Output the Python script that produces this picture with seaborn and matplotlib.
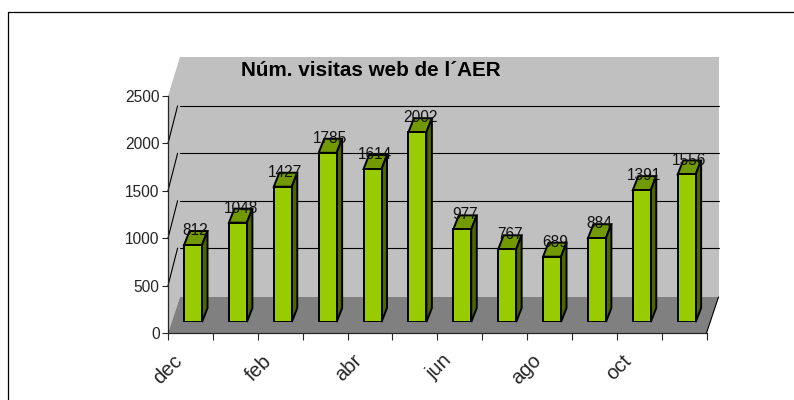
import matplotlib
matplotlib.use("Agg")
import matplotlib.pyplot as plt
import matplotlib.transforms as mtrans
import pandas as pd
import seaborn as sns
from matplotlib.patches import Polygon

months = ['dec', 'ene', 'feb', 'mar', 'abr', 'may', 'jun', 'jul', 'ago', 'sep', 'oct', 'nov']
visits = [812, 1048, 1427, 1785, 1614, 2002, 977, 767, 689, 884, 1391, 1556]
y_ticks = [0, 500, 1000, 1500, 2000, 2500]

df = pd.DataFrame({'month': months, 'visits': visits})

sns.set_style("white")
plt.rcParams['font.family'] = ['Liberation Sans', 'DejaVu Sans']

W, H = 794, 400
fig = plt.figure(figsize=(W / 100, H / 100), dpi=100)

# chart frame, only top and left show
fig.add_artist(plt.Line2D([8 / W, 8 / W, 1], [0, 1 - 12 / H, 1 - 12 / H], color='black', linewidth=0.9))

# front plane of the fake 3d box, in px
x0, x1, y0, y1 = 168, 706.5, 333, 96
ax = fig.add_axes([x0 / W, 1 - y0 / H, (x1 - x0) / W, (y0 - y1) / H])
ax.set_xlim(-0.5, 11.5)
ax.set_ylim(0, 2500)
px_x = (x1 - x0) / 12
px_y = (y0 - y1) / 2500

# depth of the box
dx = 12 / px_x
dy = 36 / px_y
top_extra = 3 / px_y
grid_shift = 1.5 / px_y
left, right = -0.5, 11.5
wall = '#C0C0C0'
wall_top = 2500 + dy + top_extra
ax.add_patch(Polygon([(left + dx, dy), (right + dx, dy), (right + dx, wall_top), (left + dx, wall_top)],
                     facecolor=wall, edgecolor='none', clip_on=False, zorder=1))
ax.add_patch(Polygon([(left, 0), (left + dx, dy), (left + dx, wall_top), (left, 2500)],
                     facecolor=wall, edgecolor='none', clip_on=False, zorder=1))
ax.add_patch(Polygon([(left, 0), (right, 0), (right + dx, dy), (left + dx, dy)],
                     facecolor='#808080', edgecolor='none', clip_on=False, zorder=2))
# right edge of the floor
ax.plot([right, right + dx], [0, dy], color='black', lw=0.8, clip_on=False, zorder=3)

for v in y_ticks[1:-1]:
    ax.plot([left + 0.27, right + dx], [v + dy + grid_shift, v + dy + grid_shift], color='black', lw=0.8,
            clip_on=False, zorder=3)
    ax.plot([left, left + dx * 0.8], [v, v + dy + grid_shift], color='black', lw=0.8, clip_on=False, zorder=3)

ax.patch.set_alpha(0)
for s in ['top', 'right']:
    ax.spines[s].set_visible(False)
for s in ['left', 'bottom']:
    ax.spines[s].set_linewidth(0.9)
    ax.spines[s].set_zorder(4)

ax.set_yticks(y_ticks)
ax.tick_params(axis='y', labelsize=11.2, length=4, width=0.8, pad=2, left=True)
ax.set_xticks(range(0, 12, 2))
ax.set_xticklabels(months[::2], rotation=45, ha='right', rotation_mode='anchor', fontsize=14.5)
ax.tick_params(axis='x', which='major', length=0, pad=13)
ax.set_xticks([i - 0.5 for i in range(13)], minor=True)
ax.tick_params(axis='x', which='minor', length=5, width=0.8, bottom=True)
ax.set_xlabel('')
ax.set_ylabel('')

# excel puts the rotated labels a bit left of the category centre
shift = mtrans.ScaledTranslation(-18 / 100, 0, fig.dpi_scale_trans)
for lab in ax.get_xticklabels():
    lab.set_transform(lab.get_transform() + shift)

# bars sit a bit inside the box: same scale, shifted axes
bar_dx, bar_dy = 2.6, 11
ax2 = fig.add_axes([(x0 + bar_dx) / W, 1 - (y0 - bar_dy) / H, (x1 - x0) / W, (y0 - y1) / H], zorder=5)
ax2.patch.set_alpha(0)
sns.barplot(data=df, x='month', y='visits', ax=ax2, color='#99CC00', saturation=1, width=0.4,
            edgecolor='black', linewidth=1.4, zorder=3)
ax2.set_xlim(-0.5, 11.5)
ax2.set_ylim(0, 2500)
ax2.axis('off')

# top and side faces, label
w = 0.2
bx = 5.5 / px_x
by = 14 / px_y
for i, v in enumerate(visits):
    ax2.add_patch(Polygon([(i - w, v), (i + w, v), (i + w + bx, v + by), (i - w + bx, v + by)],
                          facecolor='#739900', edgecolor='black', linewidth=1.4, zorder=2, clip_on=False))
    ax2.add_patch(Polygon([(i + w, 0), (i + w + bx, by), (i + w + bx, v + by), (i + w, v)],
                          facecolor='#4D6600', edgecolor='black', linewidth=1.4, zorder=2, clip_on=False))
    ax2.text(i + 0.06, v + by + 5, str(v), ha='center', va='center', fontsize=11.2, color='#111111',
             zorder=6, clip_on=False)

fig.text(371 / W, 1 - 70 / H, 'Núm. visitas web de l´AER', ha='center', va='center',
         fontsize=14.9, fontweight='bold', color='black')

fig.savefig('out.png', dpi=100)
